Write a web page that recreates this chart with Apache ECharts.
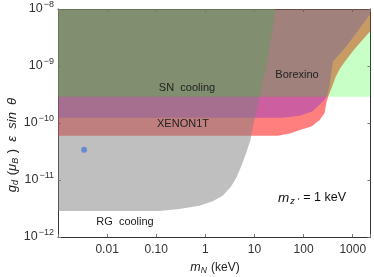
<!DOCTYPE html>
<html><head><meta charset="utf-8">
<script src="https://cdn.jsdelivr.net/npm/echarts@6/dist/echarts.min.js"></script>
<style>html,body{margin:0;padding:0;background:#fff}#c{width:374px;height:277px}</style>
</head><body><div id="c"></div>
<script>
// ---- axis ranges & ticks ----
const xMin = 0.001, xMax = 2300, yMin = 1e-12, yMax = 1e-8;
const xTickValues = [0.01, 0.1, 1, 10, 100, 1000];
const xTickLabels = ['0.01', '0.10', '1', '10', '100', '1000'];
const yTickExponents = [-12, -11, -10, -9, -8];

// ---- excluded regions (m_N in keV, coupling) ----
const snCooling = [[0.001, 2.9e-10], [2300, 2.9e-10], [2300, 1e-8], [0.001, 1e-8]];
const xenon1t = [[0.001, 6.0e-11], [30, 6.0e-11], [55, 6.6e-11], [83, 7.5e-11], [144, 8.7e-11], [212, 1.13e-10], [268, 1.5e-10], [290, 2.24e-10], [318, 2.95e-10], [373, 4.16e-10], [450, 6.5e-10], [543, 8.9e-10], [687, 1.19e-9], [1099, 2.0e-9], [2220, 4.0e-9], [2300, 4.2e-9], [2300, 1e-8], [0.001, 1e-8]];
const borexino = [[0.001, 1.24e-10], [37, 1.24e-10], [83, 1.34e-10], [153, 1.6e-10], [230, 2.24e-10], [299, 2.93e-10], [340, 4.7e-10], [372, 8.6e-10], [396, 1.2e-9], [743, 2.21e-9], [2220, 7.9e-9], [2300, 8.3e-9], [2300, 1e-8], [0.001, 1e-8]];
const rgCooling = [[0.001, 2.85e-12], [0.115, 2.87e-12], [0.294, 3.1e-12], [0.755, 3.54e-12], [1.41, 4.22e-12], [2.25, 5.3e-12], [3.34, 7.7e-12], [4.23, 1.08e-11], [5.35, 1.73e-11], [6.78, 2.98e-11], [8.3, 5.1e-11], [9.3, 8.7e-11], [10, 1.13e-10], [12.4, 2.55e-10], [14.9, 5.8e-10], [16.8, 8.6e-10], [20.7, 2.37e-9], [26.8, 1e-8], [0.001, 1e-8]];
const benchmarkPoint = [[0.0034, 3.4e-11]];

const FONT = '"Liberation Sans", Arial, sans-serif';
const chart = echarts.init(document.getElementById('c'), null, {renderer: 'canvas'});

function region(name, pts, fill) {
  return {
    type: 'custom', name: name, coordinateSystem: 'cartesian2d',
    xAxisIndex: 0, yAxisIndex: 0, data: pts, encode: {x: 0, y: 1},
    silent: true, animation: false, clip: true,
    renderItem: function (params, api) {
      if (params.dataIndex !== 0) return null;
      return {type: 'polygon', shape: {points: pts.map(function (p) { return api.coord(p); })}, style: {fill: fill}};
    }
  };
}

function xLabel(v) {
  const i = xTickValues.findIndex(function (t) { return Math.abs(Math.log10(v) - Math.log10(t)) < 1e-6; });
  return i >= 0 ? xTickLabels[i] : '';
}
function yLabel(v) {
  const lv = Math.log10(v), e = Math.round(lv);
  if (Math.abs(lv - e) > 1e-6 || yTickExponents.indexOf(e) < 0) return '';
  return '{b|10}{s|\u2212' + (-e) + '}';
}

const axisLine = {show: true, lineStyle: {color: '#333', width: 1}};
const tick = {show: true, inside: true, length: 3, lineStyle: {color: '#777'}};

const txt = {fill: '#222', align: 'center', verticalAlign: 'middle'};

chart.setOption({
  animation: false,
  backgroundColor: '#fff',
  grid: {left: 58, right: 3.5, top: 9, bottom: 40, containLabel: false, outerBoundsMode: 'none'},
  xAxis: [
    {type: 'log', logBase: 10, min: xMin, max: xMax, axisLine: axisLine, axisTick: tick,
     splitLine: {show: false}, minorTick: {show: false},
     axisLabel: {formatter: xLabel, fontSize: 12, color: '#333', fontFamily: FONT, margin: 7, showMinLabel: true, showMaxLabel: true}},
    {type: 'log', logBase: 10, min: xMin, max: xMax, position: 'top', axisLine: axisLine, axisTick: tick,
     splitLine: {show: false}, axisLabel: {show: false}}
  ],
  yAxis: [
    {type: 'log', logBase: 10, min: yMin, max: yMax, axisLine: axisLine, axisTick: tick,
     splitLine: {show: false},
     axisLabel: {formatter: yLabel, margin: 4, color: '#333',
       rich: {b: {fontSize: 12.5, fontFamily: FONT, color: '#333'},
              s: {fontSize: 9, fontFamily: FONT, color: '#333', padding: [0, 0, 9, 1]}}}},
    {type: 'log', logBase: 10, min: yMin, max: yMax, position: 'right', axisLine: axisLine, axisTick: tick,
     splitLine: {show: false}, axisLabel: {show: false}}
  ],
  series: [
    region('XENON1T', xenon1t, 'rgba(255,0,0,0.5)'),
    region('Borexino', borexino, 'rgba(90,20,235,0.3)'),
    region('RG cooling', rgCooling, 'rgba(128,128,128,0.5)'),
    region('SN cooling', snCooling, 'rgba(0,255,0,0.22)'),
    {type: 'scatter', data: benchmarkPoint, symbol: 'circle', symbolSize: 6,
     itemStyle: {color: '#4f7fcf'}, silent: true, z: 10}
  ],
  graphic: [
    {type: 'text', x: 187, y: 88, z: 100, style: Object.assign({text: 'SN  cooling', font: '11px ' + FONT}, txt)},
    {type: 'text', x: 183, y: 124, z: 100, style: Object.assign({text: 'XENON1T', font: '11px ' + FONT}, txt)},
    {type: 'text', x: 297, y: 75, z: 100, style: Object.assign({text: 'Borexino', font: '11px ' + FONT}, txt)},
    {type: 'text', x: 125, y: 222, z: 100, style: Object.assign({text: 'RG  cooling', font: '11px ' + FONT}, txt)},
    {type: 'text', x: 312, y: 198, z: 100, style: Object.assign({
      text: "{i|m}{s|z '}{r| = 1 keV}",
      rich: {i: {fontSize: 13.5, fontStyle: 'italic', fontFamily: FONT, fill: '#111'},
             s: {fontSize: 9, fontStyle: 'italic', fontFamily: FONT, fill: '#111', padding: [7, 1, 0, 1]},
             r: {fontSize: 12.5, fontFamily: FONT, fill: '#111'}}}, txt)},
    {type: 'text', x: 215, y: 268, z: 100, style: Object.assign({
      text: '{i|m}{s|N}{r| (keV)}',
      rich: {i: {fontSize: 12.5, fontStyle: 'italic', fontFamily: FONT, fill: '#222'},
             s: {fontSize: 8.5, fontStyle: 'italic', fontFamily: FONT, fill: '#222', padding: [6, 1, 0, 0]},
             r: {fontSize: 12, fontFamily: FONT, fill: '#222'}}}, txt)},
    {type: 'text', x: 12, y: 145, rotation: Math.PI / 2, z: 100, style: Object.assign({
      text: '{i|g}{s|d}{r| (}{i|\u03bc}{s|B}{r| )  }{i|\u03b5  sin  \u03b8}',
      rich: {i: {fontSize: 13, fontStyle: 'italic', fontFamily: FONT, fill: '#222'},
             s: {fontSize: 9, fontStyle: 'italic', fontFamily: FONT, fill: '#222', padding: [6, 1, 0, 0]},
             r: {fontSize: 13, fontFamily: FONT, fill: '#222'}}}, txt)}
  ]
});
</script>
</body></html>
